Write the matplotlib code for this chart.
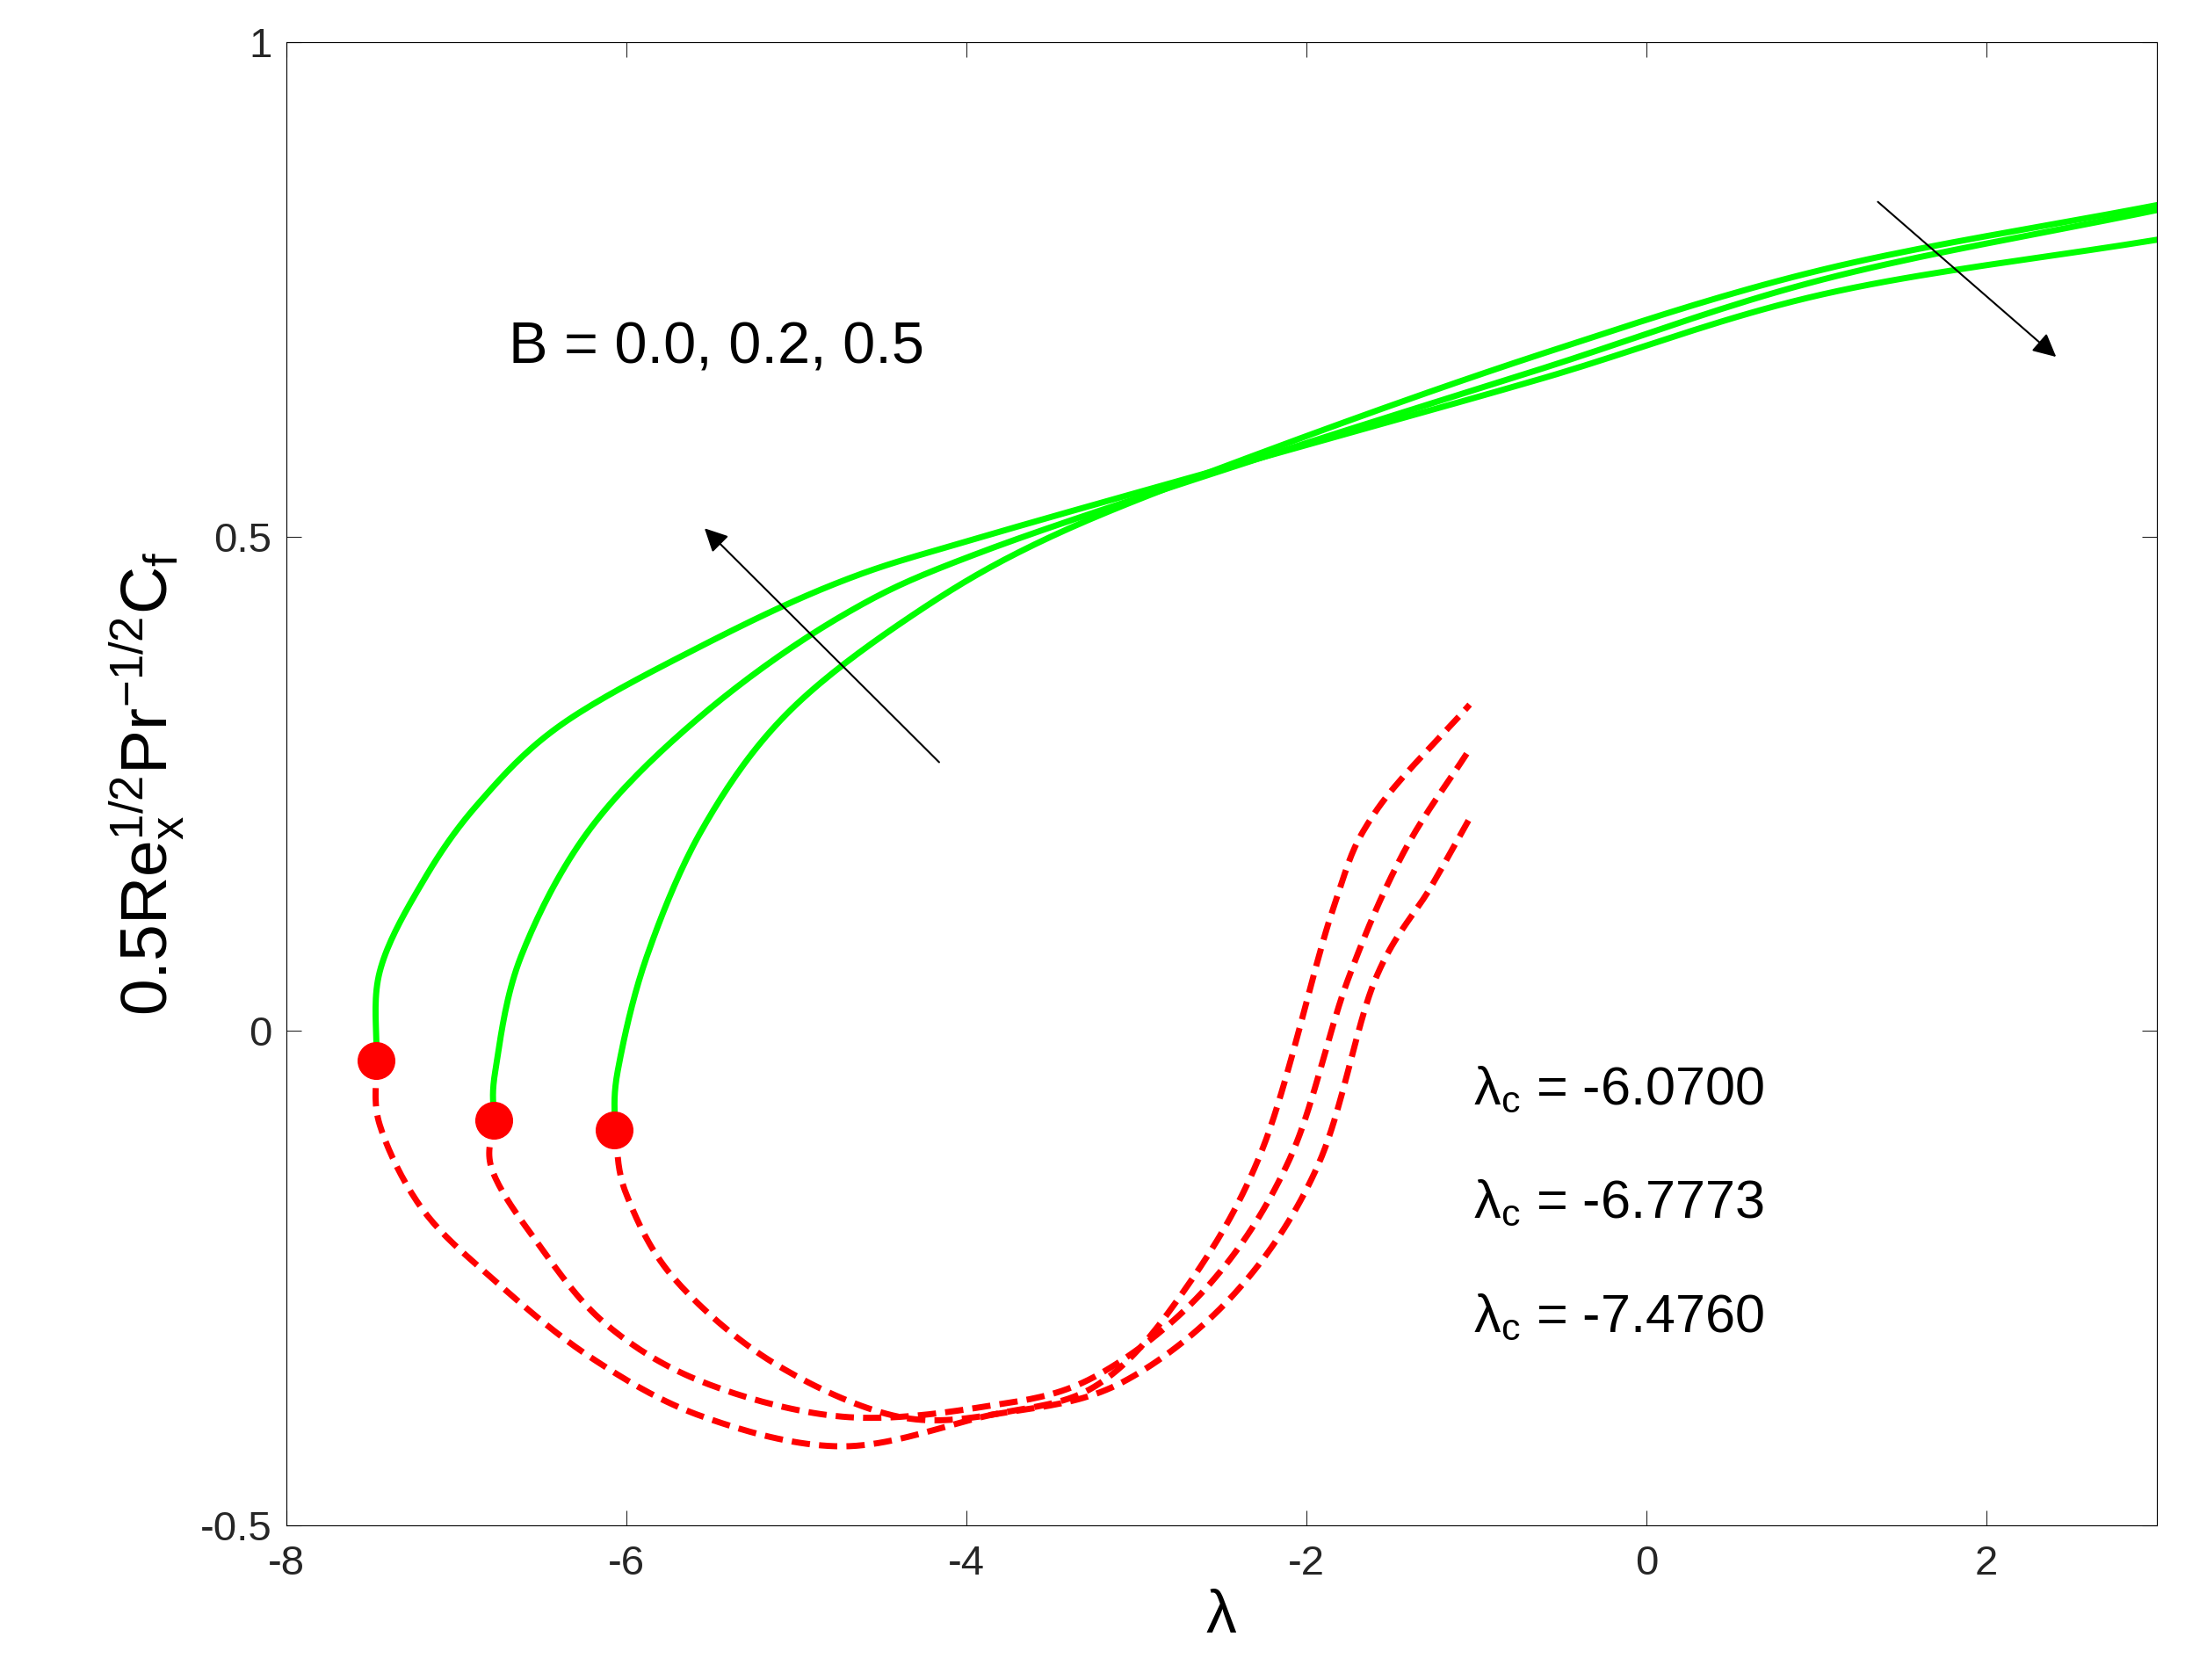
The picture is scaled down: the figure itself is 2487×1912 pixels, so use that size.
import matplotlib
matplotlib.use("Agg")
import matplotlib.pyplot as plt
import numpy as np

plt.rcParams['font.family'] = ['Liberation Sans', 'DejaVu Sans']
plt.rcParams['mathtext.fontset'] = 'custom'
plt.rcParams['mathtext.rm'] = 'Liberation Sans'
plt.rcParams['mathtext.it'] = 'Liberation Sans'
plt.rcParams['mathtext.default'] = 'regular'

# upper branches (green solid)
up1_x = [-7.47,-7.45,-7.2,-6.87,-6.38,-5.55,-4.73,-3.9,-2.26,-0.61,1.04,3.0]
up1_y = [-0.03,0.06,0.15,0.23,0.31,0.39,0.455,0.50,0.58,0.66,0.745,0.80]
up2_x = [-6.78,-6.77,-6.62,-6.21,-5.55,-4.73,-3.9,-2.26,-0.61,1.04,3.0]
up2_y = [-0.09,-0.04,0.075,0.205,0.32,0.42,0.485,0.58,0.67,0.76,0.83]
up3_x = [-6.07,-6.05,-5.88,-5.55,-5.06,-4.32,-3.5,-2.26,-0.61,1.04,3.0]
up3_y = [-0.10,-0.04,0.075,0.205,0.32,0.42,0.50,0.585,0.685,0.77,0.835]
# lower branches (red dashed)
lo1_x = [-7.47,-7.45,-7.2,-6.79,-6.21,-5.55,-4.73,-3.9,-3.25,-2.75,-2.26,-1.85,-1.6,-1.04]
lo1_y = [-0.03,-0.095,-0.18,-0.25,-0.33,-0.39,-0.42,-0.39,-0.36,-0.27,-0.12,0.12,0.22,0.33]
lo2_x = [-6.78,-6.79,-6.54,-6.13,-5.55,-4.73,-3.9,-3.25,-2.59,-2.1,-1.76,-1.43,-1.04]
lo2_y = [-0.09,-0.14,-0.21,-0.295,-0.355,-0.39,-0.38,-0.35,-0.26,-0.13,0.05,0.18,0.285]
lo3_x = [-6.07,-6.0,-5.72,-5.14,-4.4,-3.74,-3.08,-2.42,-1.93,-1.6,-1.27,-1.04]
lo3_y = [-0.10,-0.165,-0.25,-0.335,-0.39,-0.385,-0.355,-0.265,-0.135,0.05,0.145,0.215]
crit_x = [-7.47,-6.78,-6.07]
crit_y = [-0.03,-0.09,-0.10]
crit_labels = ["-6.0700","-6.7773","-7.4760"]

def smooth(x, y, n=20):
    p = np.column_stack([x, y]).astype(float)
    p = np.vstack([2*p[0]-p[1], p, 2*p[-1]-p[-2]])
    out = []
    t = np.linspace(0, 1, n, endpoint=False)[:, None]
    for i in range(1, len(p)-2):
        p0, p1, p2, p3 = p[i-1], p[i], p[i+1], p[i+2]
        out.append(0.5*((2*p1) + (-p0+p2)*t + (2*p0-5*p1+4*p2-p3)*t**2 + (-p0+3*p1-3*p2+p3)*t**3))
    out.append(p[-2][None, :])
    o = np.vstack(out)
    return o[:, 0], o[:, 1]

fig = plt.figure(figsize=(24.87,19.12), dpi=100)
ax = fig.add_axes([0.131,0.092,0.856,0.883])
for x,y in [(up1_x,up1_y),(up2_x,up2_y),(up3_x,up3_y)]:
    ax.plot(*smooth(x,y),color='#00ff00',lw=5)
for x,y in [(lo1_x,lo1_y),(lo2_x,lo2_y),(lo3_x,lo3_y)]:
    ax.plot(*smooth(x,y),color='red',lw=5,ls=(0,(3,1.5)))
ax.plot(crit_x,crit_y,'o',color='red',ms=30)
ax.set_xlim(-8,3); ax.set_ylim(-0.5,1)
ax.set_xticks([-8,-6,-4,-2,0,2]); ax.set_yticks([-0.5,0,0.5,1])
ax.set_xticklabels(['-8','-6','-4','-2','0','2'])
ax.set_yticklabels(['-0.5','0','0.5','1'])
ax.tick_params(labelsize=34, direction='in', length=12, top=True, right=True, colors='#262626')
ax.tick_params(axis='x', pad=16)
ax.tick_params(axis='y', pad=12)
ax.set_xlabel(r'$\lambda$', fontsize=50, labelpad=4)
ax.set_ylabel(r'0.5Re$_x^{1/2}$Pr$^{-1/2}$C$_f$', fontsize=54, labelpad=10)
ax.annotate('', xy=(-5.55,0.51), xytext=(-4.15,0.27), arrowprops=dict(arrowstyle='-|>',color='black',lw=1.5,mutation_scale=40))
ax.annotate('', xy=(2.42,0.68), xytext=(1.35,0.84), arrowprops=dict(arrowstyle='-|>',color='black',lw=1.5,mutation_scale=40))
ax.text(-6.69,0.69,'B = 0.0, 0.2, 0.5',fontsize=48,va='center')
for i,lab in enumerate(crit_labels):
    ax.text(-1.02,-0.06-0.115*i,r'$\lambda_c$ = '+lab,fontsize=44,va='center')
fig.savefig('out.png')
